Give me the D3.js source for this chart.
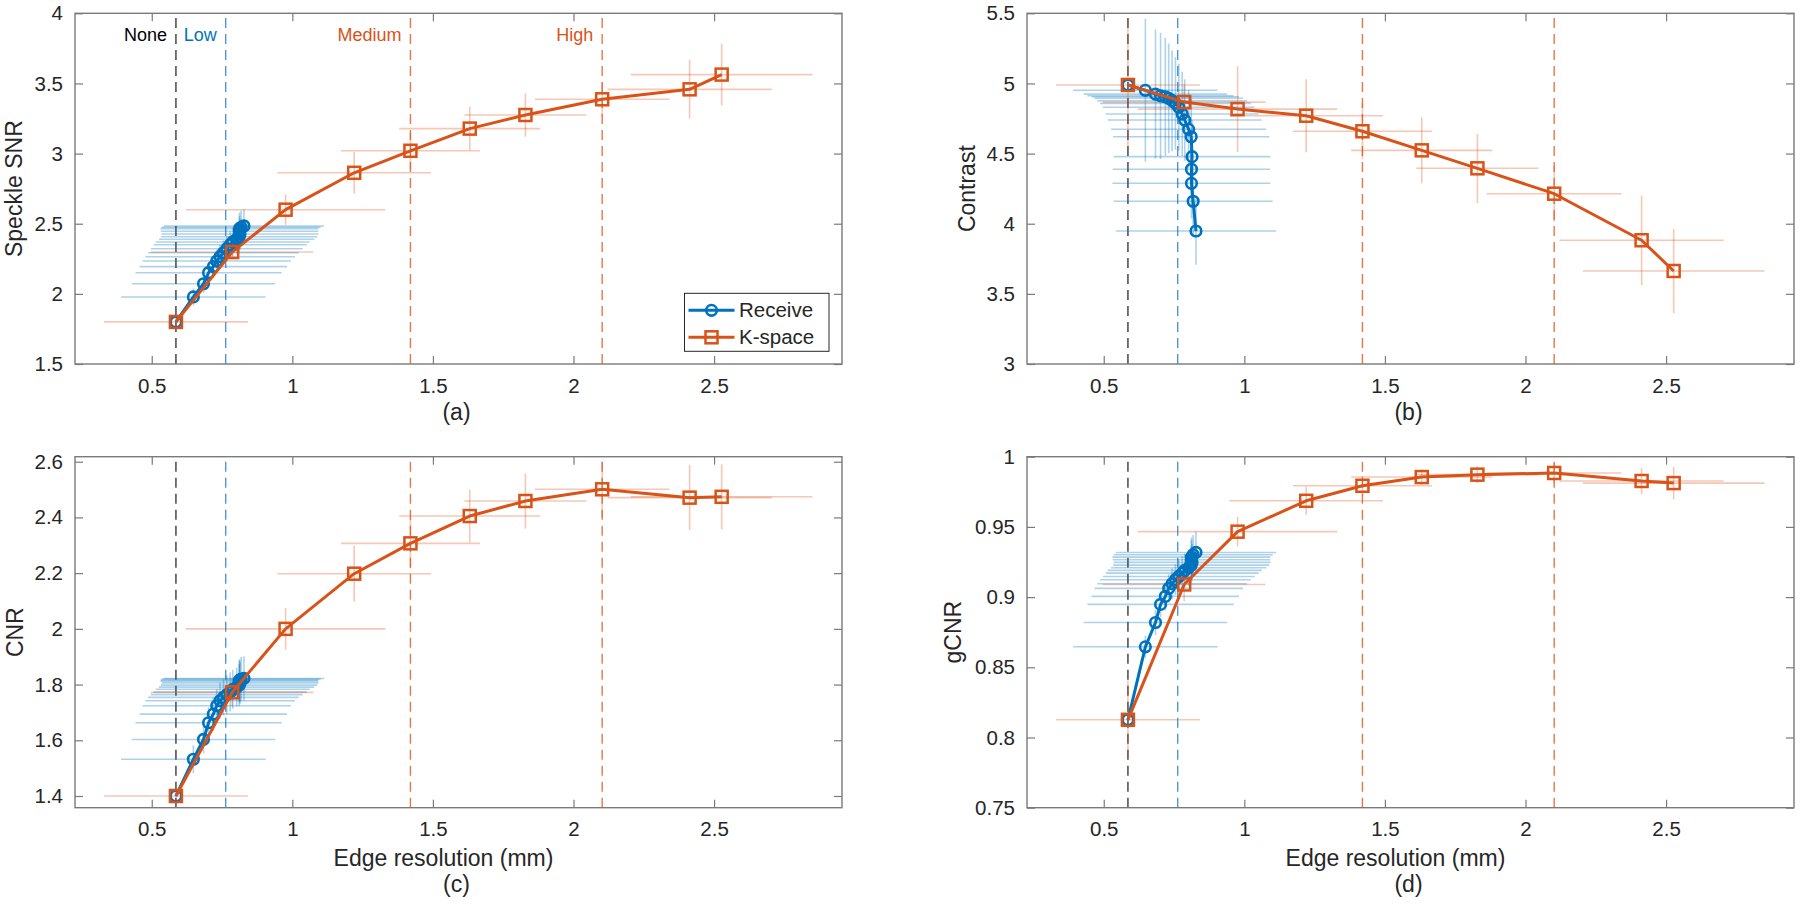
<!DOCTYPE html>
<html><head><meta charset="utf-8">
<script src="https://cdn.jsdelivr.net/npm/d3@7"></script>
<style>
body{margin:0;background:#fff}
svg{display:block}
text{font-family:"Liberation Sans",Arial,Helvetica,sans-serif;fill:#262626}
</style>
</head><body>
<svg id="chart" width="1800" height="904"></svg>
<script>
// ---------- data ----------
const seriesNames = ["Receive", "K-space"];
const levelNames = ["None", "Low", "Medium", "High"];
const levelX = [0.586, 0.763, 1.420, 2.102];

const xTicks = [0.5, 1, 1.5, 2, 2.5];
const snrTicks = [1.5, 2, 2.5, 3, 3.5, 4];
const contrastTicks = [3, 3.5, 4, 4.5, 5, 5.5];
const cnrTicks = [1.4, 1.6, 1.8, 2, 2.2, 2.4, 2.6];
const gcnrTicks = [0.75, 0.8, 0.85, 0.9, 0.95, 1];

// Receive apodization (edge resolution, mm); first point is the shared "None" point
const receiveX    = [0.586, 0.648, 0.684, 0.702, 0.719, 0.731, 0.743, 0.755, 0.767, 0.779, 0.788, 0.802, 0.811, 0.814, 0.812, 0.812, 0.818, 0.828];
const receiveXErr = [0.000, 0.257, 0.255, 0.260, 0.262, 0.264, 0.266, 0.268, 0.270, 0.272, 0.274, 0.276, 0.278, 0.279, 0.280, 0.281, 0.283, 0.285];
// K-space apodization
const kspaceX    = [0.586, 0.786, 0.976, 1.220, 1.420, 1.631, 1.829, 2.102, 2.413, 2.527];
const kspaceXErr = [0.256, 0.289, 0.355, 0.273, 0.247, 0.251, 0.217, 0.239, 0.292, 0.323];

// (a) Speckle SNR
const snrReceive    = [1.800, 1.978, 2.072, 2.151, 2.194, 2.234, 2.265, 2.293, 2.322, 2.350, 2.370, 2.389, 2.407, 2.427, 2.446, 2.465, 2.475, 2.484];
const snrReceiveErr = [0.000, 0.060, 0.065, 0.070, 0.075, 0.080, 0.085, 0.090, 0.090, 0.095, 0.100, 0.100, 0.105, 0.110, 0.110, 0.115, 0.120, 0.120];
const snrKspace     = [1.800, 2.298, 2.600, 2.863, 3.020, 3.178, 3.275, 3.387, 3.458, 3.563];
const snrKspaceErr  = [0.030, 0.050, 0.107, 0.148, 0.130, 0.155, 0.155, 0.120, 0.210, 0.220];

// (b) Contrast
const contrastReceive    = [4.989, 4.951, 4.924, 4.912, 4.905, 4.894, 4.877, 4.858, 4.830, 4.782, 4.739, 4.673, 4.620, 4.478, 4.388, 4.288, 4.160, 3.948];
const contrastReceiveErr = [0.000, 0.510, 0.460, 0.450, 0.420, 0.390, 0.360, 0.330, 0.310, 0.300, 0.290, 0.280, 0.270, 0.260, 0.260, 0.250, 0.250, 0.240];
const contrastKspace     = [4.989, 4.867, 4.817, 4.770, 4.659, 4.523, 4.395, 4.214, 3.882, 3.663];
const contrastKspaceErr  = [0.460, 0.120, 0.305, 0.260, 0.200, 0.235, 0.247, 0.200, 0.320, 0.300];

// (c) CNR
const cnrReceive    = [1.400, 1.532, 1.603, 1.663, 1.694, 1.724, 1.742, 1.754, 1.764, 1.773, 1.783, 1.791, 1.798, 1.806, 1.812, 1.816, 1.820, 1.822];
const cnrReceiveErr = [0.000, 0.050, 0.050, 0.055, 0.060, 0.060, 0.065, 0.065, 0.070, 0.070, 0.070, 0.070, 0.075, 0.075, 0.075, 0.075, 0.080, 0.080];
const cnrKspace     = [1.400, 1.772, 2.000, 2.198, 2.307, 2.405, 2.459, 2.501, 2.471, 2.474];
const cnrKspaceErr  = [0.030, 0.050, 0.075, 0.100, 0.090, 0.094, 0.099, 0.100, 0.117, 0.117];

// (d) gCNR
const gcnrReceive    = [0.8126, 0.8646, 0.8819, 0.8948, 0.9005, 0.9062, 0.9095, 0.9124, 0.9147, 0.9171, 0.9190, 0.9209, 0.9228, 0.9247, 0.9266, 0.9285, 0.9302, 0.9318];
const gcnrReceiveErr = [0.000, 0.008, 0.009, 0.009, 0.010, 0.010, 0.011, 0.011, 0.012, 0.012, 0.012, 0.013, 0.013, 0.013, 0.014, 0.014, 0.014, 0.015];
const gcnrKspace     = [0.8126, 0.909, 0.9466, 0.9686, 0.9793, 0.9855, 0.9872, 0.9884, 0.9827, 0.9812];
const gcnrKspaceErr  = [0.028, 0.012, 0.0105, 0.010, 0.007, 0.0055, 0.006, 0.007, 0.0095, 0.0115];

// ---------- drawing ----------
const BLUE = "#0072BD", ORANGE = "#D95319";
const levelColors = ["#3a3a3a", "#4a9ad6", "#e4774a", "#e4774a"];
const levelTextColors = ["#000000", BLUE, ORANGE, ORANGE];
const svg = d3.select("#chart");
const xDomain = [0.227, 2.955];
const fmt = v => String(+v.toFixed(3));

const panels = [
  {id:"a", left:75,   top:13.3,  w:767, h:350.7, yDomain:[1.5,4],       yTicks:snrTicks,      ylabel:"Speckle SNR", ylabOff:-53,
   rY:snrReceive, rE:snrReceiveErr, kY:snrKspace, kE:snrKspaceErr, xlabel:false, tag:"(a)", legend:true, levelText:true},
  {id:"b", left:1027, top:13.3,  w:767, h:350.7, yDomain:[3,5.5],       yTicks:contrastTicks, ylabel:"Contrast",    ylabOff:-52,
   rY:contrastReceive, rE:contrastReceiveErr, kY:contrastKspace, kE:contrastKspaceErr, xlabel:false, tag:"(b)"},
  {id:"c", left:75,   top:456.7, w:767, h:351,   yDomain:[1.358,2.618], yTicks:cnrTicks,      ylabel:"CNR",         ylabOff:-52,
   rY:cnrReceive, rE:cnrReceiveErr, kY:cnrKspace, kE:cnrKspaceErr, xlabel:true, tag:"(c)"},
  {id:"d", left:1027, top:456.7, w:767, h:351,   yDomain:[0.75,1],      yTicks:gcnrTicks,     ylabel:"gCNR",        ylabOff:-66,
   rY:gcnrReceive, rE:gcnrReceiveErr, kY:gcnrKspace, kE:gcnrKspaceErr, xlabel:true, tag:"(d)"}
];

panels.forEach(p => {
  const x = d3.scaleLinear().domain(xDomain).range([p.left, p.left + p.w]);
  const y = d3.scaleLinear().domain(p.yDomain).range([p.top + p.h, p.top]);
  const g = svg.append("g");
  const clipId = "clip-" + p.id;
  svg.append("clipPath").attr("id", clipId).append("rect")
    .attr("x", p.left).attr("y", p.top).attr("width", p.w).attr("height", p.h);
  const plot = g.append("g").attr("clip-path", `url(#${clipId})`);

  // level dashed lines
  levelX.forEach((lx, i) => {
    plot.append("line")
      .attr("x1", x(lx)).attr("x2", x(lx))
      .attr("y1", y(p.yDomain[0])).attr("y2", y(p.yDomain[1]))
      .attr("stroke", levelColors[i]).attr("stroke-width", 1.4)
      .attr("stroke-dasharray", "10,6");
  });

  // error bars
  function errBars(xs, xe, ys, ye, color) {
    const eg = plot.append("g").attr("stroke", color).attr("stroke-opacity", 0.32).attr("stroke-width", 1.6);
    xs.forEach((xv, i) => {
      if (xe[i] > 0) eg.append("line").attr("x1", x(xv - xe[i])).attr("x2", x(xv + xe[i]))
        .attr("y1", y(ys[i])).attr("y2", y(ys[i]));
      if (ye[i] > 0) eg.append("line").attr("x1", x(xv)).attr("x2", x(xv))
        .attr("y1", y(ys[i] - ye[i])).attr("y2", y(ys[i] + ye[i]));
    });
  }
  errBars(receiveX, receiveXErr, p.rY, p.rE, BLUE);
  errBars(kspaceX, kspaceXErr, p.kY, p.kE, ORANGE);

  const line = d3.line().x(d => x(d[0])).y(d => y(d[1]));
  const rPts = receiveX.map((v, i) => [v, p.rY[i]]);
  const kPts = kspaceX.map((v, i) => [v, p.kY[i]]);

  plot.append("path").datum(rPts).attr("d", line).attr("fill", "none")
    .attr("stroke", BLUE).attr("stroke-width", 3).attr("stroke-linejoin", "round");
  plot.append("g").selectAll("circle").data(rPts).join("circle")
    .attr("cx", d => x(d[0])).attr("cy", d => y(d[1])).attr("r", 5.3)
    .attr("fill", "none").attr("stroke", BLUE).attr("stroke-width", 2.6);

  plot.append("path").datum(kPts).attr("d", line).attr("fill", "none")
    .attr("stroke", ORANGE).attr("stroke-width", 3).attr("stroke-linejoin", "round");
  plot.append("g").selectAll("rect").data(kPts).join("rect")
    .attr("x", d => x(d[0]) - 6).attr("y", d => y(d[1]) - 6).attr("width", 12).attr("height", 12)
    .attr("fill", "none").attr("stroke", ORANGE).attr("stroke-width", 2.5);

  // axes
  const axColor = "#7a7a7a";
  const bottom = g.append("g").attr("transform", `translate(0,${p.top + p.h})`)
    .call(d3.axisBottom(x).tickValues(xTicks).tickFormat(fmt).tickSizeInner(-8).tickSizeOuter(0).tickPadding(14));
  const top = g.append("g").attr("transform", `translate(0,${p.top})`)
    .call(d3.axisTop(x).tickValues(xTicks).tickFormat("").tickSizeInner(-8).tickSizeOuter(0));
  const left = g.append("g").attr("transform", `translate(${p.left},0)`)
    .call(d3.axisLeft(y).tickValues(p.yTicks).tickFormat(fmt).tickSizeInner(-8).tickSizeOuter(0).tickPadding(12));
  const right = g.append("g").attr("transform", `translate(${p.left + p.w},0)`)
    .call(d3.axisRight(y).tickValues(p.yTicks).tickFormat("").tickSizeInner(-8).tickSizeOuter(0));
  [bottom, top, left, right].forEach(a => {
    a.select(".domain").remove();
    a.selectAll(".tick line").attr("stroke", axColor).attr("stroke-width", 1.2);
    a.selectAll(".tick text").style("font-size", "20.5px").attr("fill", "#262626");
  });
  g.append("rect").attr("x", p.left).attr("y", p.top).attr("width", p.w).attr("height", p.h)
    .attr("fill", "none").attr("stroke", axColor).attr("stroke-width", 1.4);

  // labels
  const cx = p.left + p.w / 2, cy = p.top + p.h / 2;
  g.append("text").attr("transform", `translate(${p.left + p.ylabOff},${cy}) rotate(-90)`)
    .attr("text-anchor", "middle").style("font-size", "23px").text(p.ylabel);
  const base = p.top + p.h;
  if (p.xlabel) {
    g.append("text").attr("x", cx - 15).attr("y", base + 58).attr("text-anchor", "middle")
      .style("font-size", "23px").text("Edge resolution (mm)");
    g.append("text").attr("x", cx - 2).attr("y", base + 84).attr("text-anchor", "middle")
      .style("font-size", "23px").text(p.tag);
  } else {
    g.append("text").attr("x", cx - 2).attr("y", base + 56).attr("text-anchor", "middle")
      .style("font-size", "23px").text(p.tag);
  }

  if (p.levelText) {
    levelNames.forEach((name, i) => {
      g.append("text").attr("x", x(levelX[i]) - 9).attr("y", p.top + 28)
        .attr("text-anchor", "end").style("font-size", "18px")
        .attr("fill", levelTextColors[i]).style("fill", levelTextColors[i]).text(name);
    });
  }

  if (p.legend) {
    const lg = g.append("g");
    const lx = 684.5, ly = 293.3, lw = 144.5, lh = 58;
    lg.append("rect").attr("x", lx).attr("y", ly).attr("width", lw).attr("height", lh)
      .attr("fill", "#fff").attr("stroke", "#262626").attr("stroke-width", 1);
    const colors = [BLUE, ORANGE];
    seriesNames.forEach((nm, i) => {
      const yy = ly + 17 + i * 27;
      lg.append("line").attr("x1", lx + 4).attr("x2", lx + 50).attr("y1", yy).attr("y2", yy)
        .attr("stroke", colors[i]).attr("stroke-width", 3);
      if (i === 0) {
        lg.append("circle").attr("cx", lx + 27).attr("cy", yy).attr("r", 5.3)
          .attr("fill", "none").attr("stroke", BLUE).attr("stroke-width", 2.6);
      } else {
        lg.append("rect").attr("x", lx + 21).attr("y", yy - 6).attr("width", 12).attr("height", 12)
          .attr("fill", "none").attr("stroke", ORANGE).attr("stroke-width", 2.5);
      }
      lg.append("text").attr("x", lx + 54.5).attr("y", yy).attr("dy", "0.35em")
        .style("font-size", "20.5px").text(nm);
    });
  }
});
</script>
</body></html>
